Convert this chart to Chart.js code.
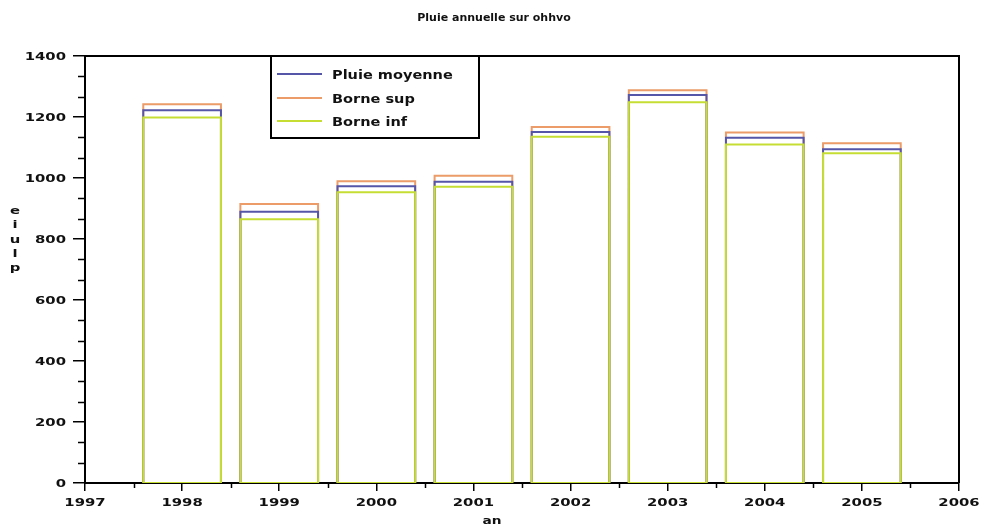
<!DOCTYPE html>
<html>
<head>
<meta charset="utf-8">
<script src="https://cdn.jsdelivr.net/npm/chart.js@4.4.1/dist/chart.umd.min.js"></script>
<style>
  html, body { margin: 0; padding: 0; background: #fff; }
  #wrap { width: 981px; height: 531px; }
</style>
</head>
<body>
<div id="wrap"><canvas id="c" width="981" height="531"></canvas></div>
<script>
// Annual rainfall per year with its confidence bounds (mm)
const years        = [1998, 1999, 2000, 2001, 2002, 2003, 2004, 2005];
const pluieMoyenne = [1222,  889,  973,  988, 1151, 1272, 1132, 1094];
const borneSup     = [1242,  915,  989, 1007, 1167, 1288, 1149, 1114];
const borneInf     = [1198,  865,  953,  971, 1135, 1248, 1110, 1081];

const seriesNames = ['Pluie moyenne', 'Borne sup', 'Borne inf'];
const chartTitle  = 'Pluie annuelle sur ohhvo';
const xTitle = 'an';
const yTitle = 'pluie';
const xRange = [1997, 2006];
const yRange = [0, 1400];

const COLORS = { moy: '#5656a8', sup: '#ec9c68', inf: '#c6de34' };
const HALF = 0.4;   // half width of each bar, in years

// Each bar is an outlined rectangle from 0 up to the value; null breaks the path between bars.
function outline(values) {
  const pts = [];
  years.forEach((yr, i) => {
    const a = yr - HALF, b = yr + HALF, v = values[i];
    pts.push({x: a, y: 0}, {x: a, y: v}, {x: b, y: v}, {x: b, y: 0}, {x: a, y: 0}, {x: b, y: null});
  });
  return pts;
}

// Draws text horizontally stretched by sx.
function drawText(ctx, text, x, y, font, sx, align, baseline) {
  ctx.save();
  ctx.font = font;
  ctx.textBaseline = baseline || 'alphabetic';
  ctx.textAlign = 'left';
  const w = ctx.measureText(text).width * sx;
  let left = x;
  if (align === 'right') left = x - w;
  else if (align === 'center') left = x - w / 2;
  ctx.translate(left, y);
  ctx.scale(sx, 1);
  ctx.fillStyle = '#111';
  ctx.fillText(text, 0, 0);
  ctx.restore();
}

const decor = {
  id: 'decor',
  afterDraw(chart) {
    const ctx = chart.ctx;
    const area = chart.chartArea;
    const xs = chart.scales.x, ys = chart.scales.y;
    ctx.save();
    ctx.strokeStyle = '#000';

    // top and right sides of the frame
    ctx.lineWidth = 2;
    ctx.beginPath();
    ctx.moveTo(area.left, area.top);
    ctx.lineTo(area.right, area.top);
    ctx.lineTo(area.right, area.bottom);
    ctx.stroke();

    // minor ticks
    ctx.lineWidth = 1.5;
    ctx.beginPath();
    for (let v = yRange[0]; v < yRange[1]; v += 200) {
      for (let k = 1; k < 3; k++) {
        const py = Math.round(ys.getPixelForValue(v + k * 200 / 3)) + 0.5;
        ctx.moveTo(area.left - 7, py);
        ctx.lineTo(area.left, py);
      }
    }
    for (let v = xRange[0]; v < xRange[1]; v++) {
      const px = Math.round(xs.getPixelForValue(v + 0.5)) + 0.5;
      ctx.moveTo(px, area.bottom);
      ctx.lineTo(px, area.bottom + 5);
    }
    ctx.stroke();

    // tick labels
    const tickFont = 'bold 11px "DejaVu Sans"';
    ys.ticks.forEach(t => {
      drawText(ctx, String(t.value), 66, ys.getPixelForValue(t.value) + 4, tickFont, 1.35, 'right');
    });
    xs.ticks.forEach(t => {
      drawText(ctx, String(t.value), xs.getPixelForValue(t.value), 506, tickFont, 1.35, 'center');
    });

    // titles
    drawText(ctx, chartTitle, 494, 21, 'bold 11px "DejaVu Sans"', 1.0, 'center');
    drawText(ctx, xTitle, (area.left + area.right) / 2 - 30, 524, 'bold 11px "DejaVu Sans"', 1.25, 'center');
    const chars = yTitle.split('').reverse();
    const yCenters = [211, 225, 240, 254, 268];
    chars.forEach((ch, i) => {
      drawText(ctx, ch, 15, yCenters[i], 'bold 11px "DejaVu Sans"', 1.35, 'center', 'middle');
    });

    // legend
    const lx = 271, ly = area.top, lw = 208, lh = 82;
    ctx.fillStyle = '#fff';
    ctx.fillRect(lx, ly, lw, lh);
    ctx.lineWidth = 2;
    ctx.strokeStyle = '#000';
    ctx.strokeRect(lx, ly, lw, lh);
    const rows = [74, 98, 121];
    chart.data.datasets.forEach((ds, i) => {
      ctx.strokeStyle = ds.borderColor;
      ctx.lineWidth = 2;
      ctx.beginPath();
      ctx.moveTo(277, rows[i]);
      ctx.lineTo(322, rows[i]);
      ctx.stroke();
      drawText(ctx, ds.label, 332, rows[i] + 4.5, 'bold 12px "DejaVu Sans"', 1.21, 'left');
    });
    ctx.restore();
  }
};

new Chart(document.getElementById('c'), {
  type: 'line',
  data: {
    datasets: [
      { label: seriesNames[0], data: outline(pluieMoyenne), borderColor: COLORS.moy, order: 1 },
      { label: seriesNames[1], data: outline(borneSup),     borderColor: COLORS.sup, order: 2 },
      { label: seriesNames[2], data: outline(borneInf),     borderColor: COLORS.inf, order: 0 }
    ]
  },
  options: {
    responsive: false,
    animation: false,
    devicePixelRatio: 1,
    spanGaps: false,
    layout: { padding: { top: 56, right: 22, left: 0, bottom: 0 } },
    elements: {
      line: { borderWidth: 2, tension: 0, fill: false },
      point: { radius: 0 }
    },
    plugins: { legend: { display: false }, tooltip: { enabled: false }, title: { display: false } },
    scales: {
      x: {
        type: 'linear', min: xRange[0], max: xRange[1],
        ticks: { stepSize: 1, display: false },
        grid: { drawOnChartArea: false, drawTicks: true, tickLength: 8, color: '#000', lineWidth: 1.5 },
        border: { color: '#000', width: 2 },
        afterFit(s) { s.height = 48; }
      },
      y: {
        type: 'linear', min: yRange[0], max: yRange[1],
        ticks: { stepSize: 200, display: false },
        grid: { drawOnChartArea: false, drawTicks: true, tickLength: 12, color: '#000', lineWidth: 1.5 },
        border: { color: '#000', width: 2 },
        afterFit(s) { s.width = 85; }
      }
    }
  },
  plugins: [decor]
});
</script>
</body>
</html>
